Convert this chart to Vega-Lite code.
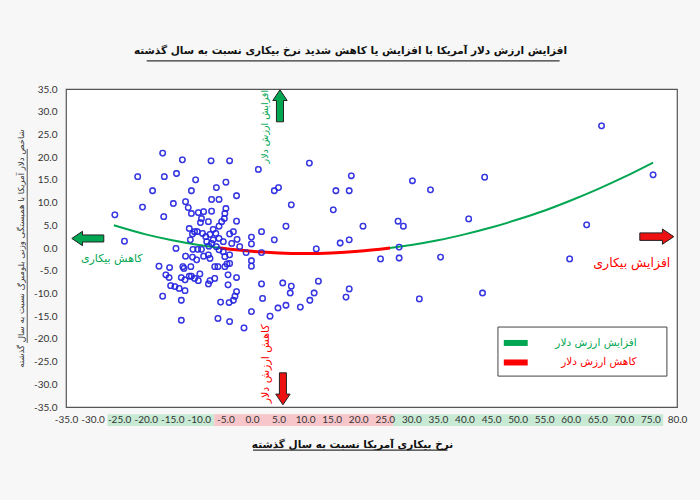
{
  "$schema": "https://vega.github.io/schema/vega-lite/v6.json",
  "width": 611,
  "height": 318,
  "autosize": {"type": "none"},
  "padding": {"left": 66, "top": 89, "right": 23, "bottom": 93},
  "background": "#f7f7f7",
  "config": {
    "view": {"stroke": "#555555", "strokeWidth": 1.2, "fill": "white"},
    "font": "DejaVu Sans",
    "axis": {"labelOverlap": false, "labelSeparation": 0, "labelBound": false, "labelFlush": false, "grid": false, "ticks": false, "domain": false, "labelFont": "Liberation Sans Narrow, Lato, sans-serif", "labelFontSize": 10, "labelColor": "#333333"}
  },
  "title": {
    "text": "افزایش ارزش دلار آمریکا با افزایش یا کاهش شدید نرخ بیکاری نسبت به سال گذشته",
    "fontSize": 10.5,
    "fontWeight": "bold",
    "color": "#111111",
    "anchor": "middle",
    "frame": "group",
    "dx": -21,
    "offset": 4
  },
  "datasets": {
    "points": [
      {"x": -16.8, "y": 20.9}, {"x": -13.1, "y": 19.4}, {"x": -7.7, "y": 19.2}, {"x": -4.2, "y": 19.2},
      {"x": -21.5, "y": 15.7}, {"x": -16.5, "y": 15.7}, {"x": -14.2, "y": 16.4}, {"x": -10.6, "y": 15.0},
      {"x": -4.9, "y": 14.5}, {"x": 1.2, "y": 17.3}, {"x": -18.7, "y": 12.6}, {"x": -11.4, "y": 12.6},
      {"x": -6.7, "y": 13.3}, {"x": -2.9, "y": 11.5}, {"x": -7.6, "y": 10.7}, {"x": -6.2, "y": 10.7},
      {"x": -14.8, "y": 9.8}, {"x": -20.6, "y": 9.0}, {"x": -12.5, "y": 10.2}, {"x": -12.0, "y": 8.9},
      {"x": -11.4, "y": 7.6}, {"x": -10.1, "y": 7.8}, {"x": -9.1, "y": 8.0}, {"x": -7.6, "y": 8.1},
      {"x": -4.9, "y": 8.7}, {"x": -5.1, "y": 7.6}, {"x": -16.6, "y": 6.9}, {"x": -9.5, "y": 6.5},
      {"x": -8.2, "y": 5.8}, {"x": -9.7, "y": 5.6}, {"x": -5.2, "y": 6.5}, {"x": -5.7, "y": 5.8},
      {"x": -6.2, "y": 4.8}, {"x": -2.9, "y": 5.9}, {"x": -11.8, "y": 4.3}, {"x": -10.8, "y": 3.6},
      {"x": -10.3, "y": 3.6}, {"x": -11.2, "y": 3.1}, {"x": -9.3, "y": 3.2}, {"x": -8.7, "y": 2.5},
      {"x": -7.3, "y": 4.1}, {"x": -6.8, "y": 3.2}, {"x": -7.9, "y": 3.0}, {"x": -4.2, "y": 3.1},
      {"x": -3.5, "y": 3.6}, {"x": -6.2, "y": 2.1}, {"x": -7.3, "y": 1.8}, {"x": -7.6, "y": 1.0},
      {"x": -8.5, "y": 1.4}, {"x": -5.4, "y": 1.4}, {"x": -2.8, "y": 1.9}, {"x": -3.8, "y": 1.0},
      {"x": -11.6, "y": 1.8}, {"x": -0.1, "y": 2.4}, {"x": 4.2, "y": 1.8}, {"x": 1.8, "y": 3.6},
      {"x": -2.3, "y": 0.3}, {"x": -0.1, "y": 0.9}, {"x": -14.3, "y": -0.1}, {"x": -11.1, "y": -0.3},
      {"x": -10.2, "y": -0.3}, {"x": -9.5, "y": -0.3}, {"x": -8.1, "y": 0.4}, {"x": -6.7, "y": 0.3},
      {"x": -6.2, "y": -0.4}, {"x": -5.4, "y": -0.8}, {"x": -1.1, "y": -1.0}, {"x": 1.8, "y": -1.0},
      {"x": -12.5, "y": -1.8}, {"x": -11.2, "y": -2.0}, {"x": -10.4, "y": -2.6}, {"x": -9.1, "y": -1.8},
      {"x": -8.2, "y": -1.5}, {"x": -7.9, "y": -2.3}, {"x": -5.1, "y": -1.9}, {"x": -4.2, "y": -1.5},
      {"x": -0.1, "y": -2.8}, {"x": -17.5, "y": -4.0}, {"x": -15.5, "y": -4.3}, {"x": -13.0, "y": -4.1},
      {"x": -12.8, "y": -4.5}, {"x": -11.5, "y": -4.1}, {"x": -7.0, "y": -4.1}, {"x": -6.4, "y": -4.1},
      {"x": -5.1, "y": -4.1}, {"x": -4.7, "y": -3.5}, {"x": -4.2, "y": -3.4}, {"x": -0.1, "y": -4.0},
      {"x": -16.2, "y": -5.9}, {"x": -15.6, "y": -6.5}, {"x": -13.3, "y": -6.5}, {"x": -12.6, "y": -7.0},
      {"x": -11.8, "y": -6.2}, {"x": -11.4, "y": -6.2}, {"x": -10.8, "y": -6.7}, {"x": -9.8, "y": -5.7},
      {"x": -10.1, "y": -7.2}, {"x": -7.9, "y": -7.2}, {"x": -8.2, "y": -7.9}, {"x": -7.0, "y": -6.7},
      {"x": -4.5, "y": -5.9}, {"x": -2.9, "y": -6.5}, {"x": -15.3, "y": -8.3}, {"x": -14.5, "y": -8.5},
      {"x": -13.7, "y": -8.9}, {"x": -12.6, "y": -9.4}, {"x": -4.5, "y": -8.1}, {"x": -2.9, "y": -9.6},
      {"x": -3.2, "y": -10.6}, {"x": -3.5, "y": -11.5}, {"x": -4.3, "y": -12.0}, {"x": -16.8, "y": -10.6},
      {"x": -13.3, "y": -11.5}, {"x": -5.9, "y": -11.9}, {"x": 1.8, "y": -7.9}, {"x": 2.0, "y": -11.1},
      {"x": -0.1, "y": -14.0}, {"x": 3.4, "y": -15.0}, {"x": -6.4, "y": -15.5}, {"x": -4.2, "y": -16.2},
      {"x": -13.3, "y": -15.9}, {"x": -1.5, "y": -17.6}, {"x": 4.9, "y": -13.2},
      {"x": -25.8, "y": 7.3}, {"x": -24.0, "y": 1.5},
      {"x": 4.2, "y": 12.6}, {"x": 5.0, "y": 13.3},
      {"x": 7.4, "y": 9.5}, {"x": 6.4, "y": 4.8}, {"x": 10.8, "y": 18.7}, {"x": 15.8, "y": 12.6},
      {"x": 18.3, "y": 12.6}, {"x": 18.7, "y": 15.9}, {"x": 15.3, "y": 8.4}, {"x": 20.9, "y": 4.8},
      {"x": 18.3, "y": 1.8}, {"x": 16.6, "y": 1.1}, {"x": 12.1, "y": -0.2}, {"x": 5.8, "y": -7.7},
      {"x": 7.4, "y": -8.4}, {"x": 7.2, "y": -9.9}, {"x": 12.5, "y": -7.3}, {"x": 11.7, "y": -9.9},
      {"x": 10.9, "y": -11.5}, {"x": 9.1, "y": -13.0}, {"x": 6.4, "y": -12.6}, {"x": 18.3, "y": -9.0},
      {"x": 17.7, "y": -10.8}, {"x": 24.2, "y": -2.4}, {"x": 27.7, "y": -2.2}, {"x": 27.7, "y": 0.2},
      {"x": 27.5, "y": 5.9}, {"x": 28.5, "y": 4.8}, {"x": 30.2, "y": 14.8}, {"x": 33.6, "y": 12.8},
      {"x": 31.5, "y": -11.2}, {"x": 35.5, "y": -2.0}, {"x": 43.8, "y": 15.6}, {"x": 40.8, "y": 6.4},
      {"x": 43.4, "y": -9.9}, {"x": 59.8, "y": -2.4}, {"x": 63.0, "y": 5.1}, {"x": 65.8, "y": 26.9},
      {"x": 75.5, "y": 16.1}
    ],
    "curve": [
      {"x": -26, "y": 5.0, "seg": "a", "trend": "افزایش ارزش دلار"},
      {"x": -20, "y": 3.0, "seg": "a", "trend": "افزایش ارزش دلار"},
      {"x": -15, "y": 1.7, "seg": "a", "trend": "افزایش ارزش دلار"},
      {"x": -10, "y": 0.66, "seg": "a", "trend": "افزایش ارزش دلار"},
      {"x": -6, "y": 0.0, "seg": "a", "trend": "افزایش ارزش دلار"},
      {"x": -6, "y": 0.0, "seg": "b", "trend": "کاهش ارزش دلار"},
      {"x": 0, "y": -0.73, "seg": "b", "trend": "کاهش ارزش دلار"},
      {"x": 5, "y": -1.08, "seg": "b", "trend": "کاهش ارزش دلار"},
      {"x": 10, "y": -1.2, "seg": "b", "trend": "کاهش ارزش دلار"},
      {"x": 15, "y": -1.08, "seg": "b", "trend": "کاهش ارزش دلار"},
      {"x": 20, "y": -0.73, "seg": "b", "trend": "کاهش ارزش دلار"},
      {"x": 26, "y": 0.0, "seg": "b", "trend": "کاهش ارزش دلار"},
      {"x": 26, "y": 0.0, "seg": "c", "trend": "افزایش ارزش دلار"},
      {"x": 30, "y": 0.66, "seg": "c", "trend": "افزایش ارزش دلار"},
      {"x": 35, "y": 1.7, "seg": "c", "trend": "افزایش ارزش دلار"},
      {"x": 40, "y": 3.0, "seg": "c", "trend": "افزایش ارزش دلار"},
      {"x": 45, "y": 4.5, "seg": "c", "trend": "افزایش ارزش دلار"},
      {"x": 50, "y": 6.26, "seg": "c", "trend": "افزایش ارزش دلار"},
      {"x": 55, "y": 8.2, "seg": "c", "trend": "افزایش ارزش دلار"},
      {"x": 60, "y": 10.45, "seg": "c", "trend": "افزایش ارزش دلار"},
      {"x": 65, "y": 12.9, "seg": "c", "trend": "افزایش ارزش دلار"},
      {"x": 70, "y": 15.58, "seg": "c", "trend": "افزایش ارزش دلار"},
      {"x": 75.5, "y": 18.8, "seg": "c", "trend": "افزایش ارزش دلار"}
    ],
    "bands": [
      {"x0": -27.2, "x1": -7.1, "kind": "down"},
      {"x0": -7.1, "x1": 26.6, "kind": "up"},
      {"x0": 26.6, "x1": 77.4, "kind": "down2"}
    ]
  },
  "layer": [
    {
      "data": {"name": "points"},
      "mark": {"type": "point", "shape": "circle", "filled": false, "color": "#2424e0", "size": 30, "strokeWidth": 1.3},
      "encoding": {
        "x": {
          "field": "x", "type": "quantitative",
          "scale": {"domain": [-35, 80], "nice": false, "zero": false},
          "axis": {
            "title": "نرخ بیکاری آمریکا نسبت به سال گذشته",
            "tickCount": 23,
            "format": ".1f",
            "labelExpr": "replace(datum.label, '−', '-')",
            "labelOverlap": false,
            "labelPadding": 7,
            "titleFontSize": 10.5, "titleFontWeight": "bold", "titleColor": "#111111",
            "titleX": 286, "titleY": 37, "titleBaseline": "middle", "titleAlign": "center",
            "zindex": 1
          }
        },
        "y": {
          "field": "y", "type": "quantitative",
          "scale": {"domain": [-35, 35], "nice": false, "zero": false},
          "axis": {
            "title": "شاخص دلار آمریکا با همبستگی وزنی بلومبرگ نسبت به سال گذشته",
            "tickCount": 14,
            "format": ".1f",
            "labelExpr": "replace(datum.label, '−', '-')",
            "labelOverlap": false,
            "labelPadding": 9,
            "titleFontSize": 8.5, "titleFontWeight": "normal", "titleColor": "#333333",
            "titleAngle": 270, "titleX": -46, "titleY": 159, "titleAlign": "center", "titleBaseline": "middle"
          }
        }
      }
    },
    {
      "data": {"name": "bands"},
      "mark": {"type": "rect", "clip": false},
      "encoding": {
        "x": {"field": "x0", "type": "quantitative"},
        "x2": {"field": "x1"},
        "y": {"datum": -36.6, "type": "quantitative"},
        "y2": {"datum": -39.2},
        "color": {"field": "kind", "type": "nominal", "scale": {"domain": ["down", "up", "down2"], "range": ["#c8ead4", "#f7c6ca", "#c8ead4"]}, "legend": null}
      }
    },
    {
      "mark": {"type": "rule", "color": "#666666", "strokeDash": [4, 3], "strokeWidth": 1},
      "encoding": {"y": {"datum": 0, "type": "quantitative"}}
    },
    {
      "mark": {"type": "rule", "color": "#666666", "strokeDash": [4, 3], "strokeWidth": 1},
      "encoding": {"x": {"datum": 0, "type": "quantitative"}}
    },
    {
      "data": {"name": "curve"},
      "mark": {"type": "line", "interpolate": "monotone"},
      "encoding": {
        "x": {"field": "x", "type": "quantitative"},
        "y": {"field": "y", "type": "quantitative"},
        "detail": {"field": "seg"},
        "color": {"field": "trend", "type": "nominal", "scale": {"domain": ["افزایش ارزش دلار", "کاهش ارزش دلار"], "range": ["#00a651", "#ff0000"]}, "legend": null},
        "strokeWidth": {"field": "trend", "type": "nominal", "scale": {"domain": ["افزایش ارزش دلار", "کاهش ارزش دلار"], "range": [2, 3]}, "legend": null}
      }
    },
    {
      "data": {"name": "points"},
      "mark": {"type": "point", "shape": "circle", "filled": false, "color": "#2424e0", "size": 30, "strokeWidth": 1.3},
      "encoding": {
        "x": {"field": "x", "type": "quantitative"},
        "y": {"field": "y", "type": "quantitative"}
      }
    },
    {
      "data": {"values": [{"x": 5.27, "y": 31.3}]},
      "mark": {"type": "point", "shape": "M0,-1 L0.45,-0.33 L0.22,-0.33 L0.22,1 L-0.22,1 L-0.22,-0.33 L-0.45,-0.33 Z", "filled": true, "fill": "#00a651", "stroke": "#222222", "strokeWidth": 1, "opacity": 1, "size": 1024, "angle": 0},
      "encoding": {"x": {"field": "x", "type": "quantitative"}, "y": {"field": "y", "type": "quantitative"}}
    },
    {
      "data": {"values": [{"x": 5.83, "y": -31.0}]},
      "mark": {"type": "point", "shape": "M0,-1 L0.45,-0.33 L0.22,-0.33 L0.22,1 L-0.22,1 L-0.22,-0.33 L-0.45,-0.33 Z", "filled": true, "fill": "#ee1111", "stroke": "#222222", "strokeWidth": 1, "opacity": 1, "size": 1024, "angle": 180},
      "encoding": {"x": {"field": "x", "type": "quantitative"}, "y": {"field": "y", "type": "quantitative"}}
    },
    {
      "data": {"values": [{"x": -30.9, "y": 2.1}]},
      "mark": {"type": "point", "shape": "M0,-1 L0.45,-0.33 L0.22,-0.33 L0.22,1 L-0.22,1 L-0.22,-0.33 L-0.45,-0.33 Z", "filled": true, "fill": "#00a651", "stroke": "#222222", "strokeWidth": 1, "opacity": 1, "size": 1024, "angle": 270},
      "encoding": {"x": {"field": "x", "type": "quantitative"}, "y": {"field": "y", "type": "quantitative"}}
    },
    {
      "data": {"values": [{"x": 76.2, "y": 2.5}]},
      "mark": {"type": "point", "shape": "M0,-1 L0.45,-0.33 L0.22,-0.33 L0.22,1 L-0.22,1 L-0.22,-0.33 L-0.45,-0.33 Z", "filled": true, "fill": "#ee1111", "stroke": "#222222", "strokeWidth": 1, "opacity": 1, "size": 1156, "angle": 90},
      "encoding": {"x": {"field": "x", "type": "quantitative"}, "y": {"field": "y", "type": "quantitative"}}
    },
    {
      "data": {"values": [
        {"x": 2.4, "y": 26.7, "label": "افزایش ارزش دلار", "c": "g"},
        {"x": 2.6, "y": -25.5, "label": "کاهش ارزش دلار", "c": "r"}
      ]},
      "mark": {"type": "text", "angle": 270, "align": "center", "baseline": "middle"},
      "encoding": {
        "x": {"field": "x", "type": "quantitative"},
        "y": {"field": "y", "type": "quantitative"},
        "text": {"field": "label"},
        "color": {"field": "c", "type": "nominal", "scale": {"domain": ["g", "r"], "range": ["#00a651", "#ff0000"]}, "legend": null},
        "size": {"field": "c", "type": "nominal", "scale": {"domain": ["g", "r"], "range": [9.5, 11]}, "legend": null}
      }
    },
    {
      "data": {"values": [
        {"x": -26.4, "y": -2.4, "label": "کاهش بیکاری", "c": "g"},
        {"x": 71.5, "y": -3.3, "label": "افزایش بیکاری", "c": "r"}
      ]},
      "mark": {"type": "text", "align": "center", "baseline": "middle"},
      "encoding": {
        "x": {"field": "x", "type": "quantitative"},
        "y": {"field": "y", "type": "quantitative"},
        "text": {"field": "label"},
        "color": {"field": "c", "type": "nominal", "scale": {"domain": ["g", "r"], "range": ["#00a651", "#ff0000"]}, "legend": null},
        "size": {"field": "c", "type": "nominal", "scale": {"domain": ["g", "r"], "range": [11, 12.5]}, "legend": null}
      }
    },
    {
      "data": {"values": [{"x": 46.3, "x2": 78.1, "y": -17.4, "y2": -28.2}]},
      "mark": {"type": "rect", "fill": "white", "stroke": "#444444", "strokeWidth": 1},
      "encoding": {
        "x": {"field": "x", "type": "quantitative"}, "x2": {"field": "x2"},
        "y": {"field": "y", "type": "quantitative"}, "y2": {"field": "y2"}
      }
    },
    {
      "data": {"values": [
        {"x": 47.4, "x2": 51.9, "y": -20.9, "label": "افزایش ارزش دلار"},
        {"x": 47.4, "x2": 51.9, "y": -25.2, "label": "کاهش ارزش دلار"}
      ]},
      "mark": {"type": "rule", "strokeWidth": 6},
      "encoding": {
        "x": {"field": "x", "type": "quantitative"}, "x2": {"field": "x2"},
        "y": {"field": "y", "type": "quantitative"},
        "color": {"field": "label", "type": "nominal", "scale": {"domain": ["افزایش ارزش دلار", "کاهش ارزش دلار"], "range": ["#00a651", "#ff0000"]}, "legend": null}
      }
    },
    {
      "data": {"values": [
        {"x": 72.4, "y": -21.0, "label": "افزایش ارزش دلار"},
        {"x": 72.4, "y": -25.2, "label": "کاهش ارزش دلار"}
      ]},
      "mark": {"type": "text", "align": "right", "baseline": "middle", "fontSize": 10.5},
      "encoding": {
        "x": {"field": "x", "type": "quantitative"},
        "y": {"field": "y", "type": "quantitative"},
        "text": {"field": "label"},
        "color": {"field": "label", "type": "nominal", "scale": {"domain": ["افزایش ارزش دلار", "کاهش ارزش دلار"], "range": ["#00a651", "#ff0000"]}, "legend": null}
      }
    },
    {
      "data": {"values": [
        {"x": -19.8, "x2": 57.9, "y": 41.2},
        {"x": 0.2, "x2": 36.8, "y": -44.5}
      ]},
      "mark": {"type": "rule", "color": "#333333", "strokeWidth": 1.2, "clip": false},
      "encoding": {
        "x": {"field": "x", "type": "quantitative"}, "x2": {"field": "x2"},
        "y": {"field": "y", "type": "quantitative"}
      }
    },
    {
      "data": {"values": [{"x": -42.3, "y": 21.8, "y2": -20.9}]},
      "mark": {"type": "rule", "color": "#555555", "strokeWidth": 1, "clip": false},
      "encoding": {
        "x": {"field": "x", "type": "quantitative"},
        "y": {"field": "y", "type": "quantitative"}, "y2": {"field": "y2"}
      }
    }
  ],
  "resolve": {"scale": {"color": "independent", "strokeWidth": "independent", "size": "independent"}}
}
